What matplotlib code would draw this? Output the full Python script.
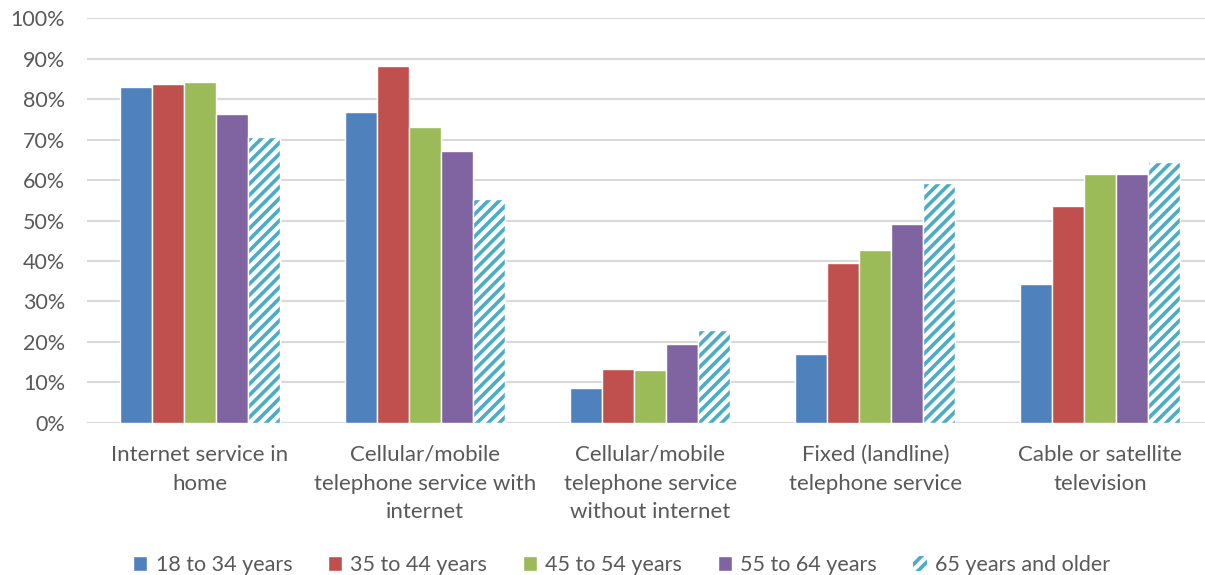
import matplotlib
matplotlib.use("Agg")
import matplotlib.pyplot as plt
import numpy as np
from matplotlib.ticker import PercentFormatter

plt.rcParams['font.family'] = ['Lato', 'DejaVu Sans']
plt.rcParams['hatch.linewidth'] = 2.6

categories = [
    "Internet service in\nhome",
    "Cellular/mobile\ntelephone service with\ninternet",
    "Cellular/mobile\ntelephone service\nwithout internet",
    "Fixed (landline)\ntelephone service",
    "Cable or satellite\ntelevision",
]
age_groups = ["18 to 34 years", "35 to 44 years", "45 to 54 years",
              "55 to 64 years", "65 years and older"]

age_18_34 = [83.1, 76.8, 8.5, 16.9, 34.2]
age_35_44 = [83.7, 88.2, 13.3, 39.5, 53.6]
age_45_54 = [84.3, 73.2, 13.0, 42.7, 61.4]
age_55_64 = [76.4, 67.3, 19.5, 49.2, 61.4]
age_65_up = [70.7, 55.2, 22.9, 59.2, 64.5]

series = [age_18_34, age_35_44, age_45_54, age_55_64, age_65_up]
colors = ["#4F81BD", "#C0504D", "#9BBB59", "#8064A2", "#4BACC6"]
text_color = "#595959"

fig = plt.figure(figsize=(12.05, 5.75), dpi=100)
ax = fig.add_axes([0.0726, 0.265, 0.934, 0.703])

x = np.arange(len(categories))
width = 0.142
for i, (vals, col, lab) in enumerate(zip(series, colors, age_groups)):
    pos = x + (i - 2) * width
    if i == 4:
        ax.bar(pos, vals, width, facecolor="white", edgecolor=col,
               hatch="///", linewidth=0, label=lab, zorder=3)
        ax.bar(pos, vals, width, facecolor="none", edgecolor="white",
               linewidth=1.0, zorder=4)
    else:
        ax.bar(pos, vals, width, color=col, edgecolor="white",
               linewidth=1.0, label=lab, zorder=3)

ax.set_ylim(0, 100)
ax.set_xlim(-0.5, 4.5)
ax.set_yticks(np.arange(0, 101, 10))
ax.yaxis.set_major_formatter(PercentFormatter(decimals=0))
ax.grid(axis="y", color="#D9D9D9", linewidth=1.5, zorder=0)
for s in ["top", "right", "left", "bottom"]:
    ax.spines[s].set_visible(False)
ax.axhline(0, color="#D9D9D9", linewidth=1.5, zorder=1)
ax.tick_params(axis="both", length=0, colors=text_color)
ax.tick_params(axis="x", pad=16, labelsize=16)
ax.tick_params(axis="y", pad=16, labelsize=15.5)
ax.set_xticks(x)
ax.set_xticklabels(categories, linespacing=1.55)

leg = fig.legend(loc="lower center", bbox_to_anchor=(0.516, -0.034), ncol=5,
                 frameon=False, fontsize=15.5, handlelength=0.65, handleheight=0.65,
                 handletextpad=0.4, columnspacing=1.65, labelcolor=text_color)

fig.savefig("out.png", dpi=100)
